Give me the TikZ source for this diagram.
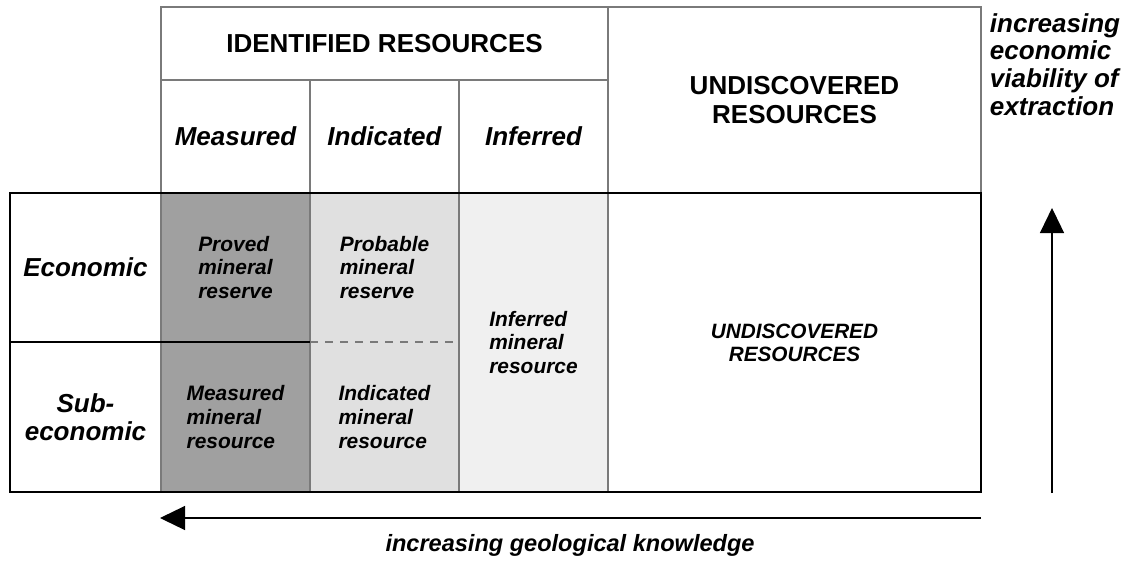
\documentclass[tikz,border=0pt]{standalone}
\usepackage{fontspec}
\setmainfont{Liberation Sans}
\usetikzlibrary{positioning,arrows.meta}
\definecolor{darkcell}{HTML}{A0A0A0}
\definecolor{midcell}{HTML}{E0E0E0}
\definecolor{palecell}{HTML}{F0F0F0}
\definecolor{gridline}{HTML}{7A7A7A}
\tikzset{cellnode/.style={draw=gridline, line width=0.7pt, inner sep=0pt, outer sep=0pt, align=center},
boxtext/.style={inner sep=0pt, outer sep=0pt, align=left, font=\fontsize{11.9}{13.4}\selectfont\bfseries\itshape},
headtext/.style={font=\fontsize{14.8}{17}\selectfont\bfseries},
colhead/.style={font=\fontsize{14.8}{15.9}\selectfont\bfseries\itshape},
bigarrow/.style={line width=0.7pt, -{Triangle[length=0.5cm, width=0.48cm]}},}

\begin{document}
\begin{tikzpicture}
\useasboundingbox (0,0) rectangle (22.5,-11.2);
\node [cellnode, headtext, minimum width=8.94cm, minimum height=1.46cm, anchor=north west] (ident) at (3.22,-0.14) {IDENTIFIED RESOURCES};
\node [cellnode, colhead, minimum width=2.98cm, minimum height=2.26cm] (meas) [below right=0pt of ident.south west] {Measured};
\node [cellnode, colhead, minimum width=2.98cm, minimum height=2.26cm] (indi) [right=0pt of meas] {Indicated};
\node [cellnode, colhead, minimum width=2.98cm, minimum height=2.26cm] (infe) [right=0pt of indi] {Inferred};
\node [cellnode, headtext, minimum width=7.46cm, minimum height=3.72cm] (undisc) [below right=0pt of ident.north east] {UNDISCOVERED\\RESOURCES};
\node [cellnode, fill=darkcell, minimum width=2.98cm, minimum height=2.98cm] (proved) [below=0pt of meas] {};
\node [cellnode, fill=darkcell, minimum width=2.98cm, minimum height=3.0cm] (measres) [below=0pt of proved] {};
\node [cellnode, fill=midcell, minimum width=2.98cm, minimum height=5.98cm] (indcol) [below=0pt of indi] {};
\node [cellnode, fill=palecell, minimum width=2.98cm, minimum height=5.98cm] (infcol) [below=0pt of infe] {};
\node [cellnode, minimum width=7.46cm, minimum height=5.98cm] (undlow) [below=0pt of undisc] {};
\node [cellnode, colhead, minimum width=3.02cm, minimum height=2.98cm] (econ) [left=0pt of proved] {Economic};
\node [cellnode, colhead, minimum width=3.02cm, minimum height=3.0cm] (subec) [left=0pt of measres] {Sub-\\economic};
\node [boxtext, minimum width=2.98cm, minimum height=2.98cm] (prov) [below=0pt of meas] {Proved\\mineral\\reserve};
\node [boxtext, minimum width=2.98cm, minimum height=3.0cm] (mres) [below=0pt of prov] {Measured\\mineral\\resource};
\node [boxtext, minimum width=2.98cm, minimum height=2.98cm] (prob) [below=0pt of indi] {Probable\\mineral\\reserve};
\node [boxtext, minimum width=2.98cm, minimum height=3.0cm] (ires) [below=0pt of prob] {Indicated\\mineral\\resource};
\node [boxtext] (infres) at (infcol.center) {Inferred\\mineral\\resource};
\node [boxtext, align=center, font=\fontsize{11.8}{13.1}\selectfont\bfseries\itshape] (undtext) at (undlow.center) {UNDISCOVERED\\RESOURCES};
\draw[gridline, line width=0.7pt, dash pattern=on 0.16cm off 0.14cm] (prob.south west) -- (prob.south east);
\draw[line width=0.7pt] (econ.north west) rectangle (undlow.south east);
\draw[line width=0.7pt] (subec.north west) -- (measres.north east);
\coordinate (vbase) at (21.04,-9.86);
\coordinate (vtip) at (21.04,-4.16);
\coordinate (hbase) at (19.62,-10.36);
\coordinate (htip) at (3.2,-10.36);
\draw[bigarrow] (vbase) -- (vtip);
\draw[bigarrow] (hbase) -- (htip);
\node [font=\fontsize{13.4}{15}\selectfont\bfseries\itshape] (know) at (11.4,-10.9) {increasing geological knowledge};
\node [align=left, font=\fontsize{14.8}{15.8}\selectfont\bfseries\itshape] (viab) at (21.1,-1.29) {increasing\\economic\\viability of\\extraction};
\end{tikzpicture}
\end{document}
